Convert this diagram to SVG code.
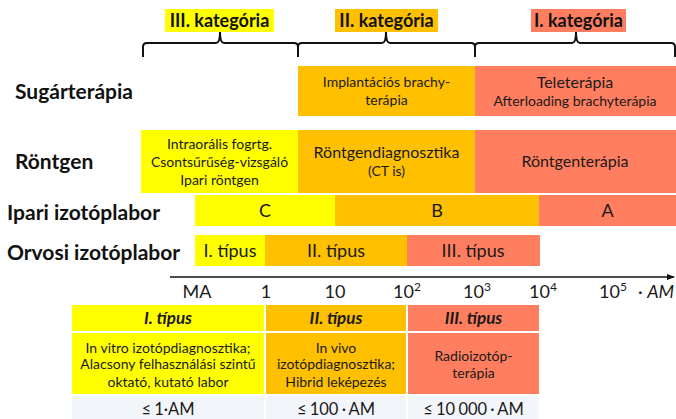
<svg xmlns="http://www.w3.org/2000/svg" width="676" height="419" viewBox="0 0 676 419">
<defs>
<style>
text{font-family:Lato,"Open Sans","Liberation Sans",sans-serif;fill:#1a1a1a;text-anchor:middle}
.lbl{font-weight:bold;font-size:21px;text-anchor:start;fill:#111}
.cat{font-weight:bold;font-size:18px;fill:#111}
.s13{font-size:14px}
.s15{font-size:16px}
.s16{font-size:18px}
.y{fill:#FFFF00}.o{fill:#FFC000}.r{fill:#FF7E5F}.g{fill:#F2F5F9}
.brace{fill:none;stroke:#111;stroke-width:2}
.hd{font-weight:bold;font-style:italic;font-size:17px}
.bt{font-size:16.5px;word-spacing:-1px}
</style>
<marker id="arr" markerWidth="8" markerHeight="8" refX="7" refY="4" orient="auto" markerUnits="userSpaceOnUse">
<path d="M0,1 L8,4 L0,7 z" fill="#111"/>
</marker>
</defs>

<g id="categories">
<g id="cat3"><rect class="y" x="165" y="9" width="109" height="23"/><text class="cat" x="219.5" y="27">III. kategória</text></g>
<g id="cat2"><rect class="o" x="335" y="9" width="103" height="23"/><text class="cat" x="386.5" y="27">II. kategória</text></g>
<g id="cat1"><rect class="r" x="531" y="9" width="95" height="23"/><text class="cat" x="578.5" y="27">I. kategória</text></g>
</g>

<g id="connectors">
<path class="brace" d="M143,57 V47 Q143,43 147,43 H216 Q220,43 220,32 Q220,43 224,43 H294 Q298,43 298,47 V57"/>
<path class="brace" d="M298,47 Q298,43 302,43 H382 Q386,43 386,32 Q386,43 390,43 H471 Q475,43 475,47 V57"/>
<path class="brace" d="M475,47 Q475,43 479,43 H572 Q576,43 576,32 Q576,43 580,43 H671 Q675,43 675,47 V57"/>
<line x1="170" y1="277" x2="674" y2="277" stroke="#111" stroke-width="1.5" marker-end="url(#arr)"/>
</g>

<g id="row-sugarterapia">
<text class="lbl" x="15" y="99">Sugárterápia</text>
<rect class="o" x="298" y="66" width="177" height="50"/>
<text class="s13" x="386.5" y="87">Implantációs brachy-</text>
<text class="s13" x="386.5" y="105">terápia</text>
<rect class="r" x="475" y="66" width="201" height="50"/>
<text class="s15" x="575" y="88">Teleterápia</text>
<text class="s13" x="575" y="106">Afterloading brachyterápia</text>
</g>

<g id="row-rontgen">
<text class="lbl" x="15" y="169">Röntgen</text>
<rect class="y" x="141" y="130" width="157" height="63"/>
<text class="s13" x="219.5" y="148.5">Intraorális fogrtg.</text>
<text class="s13" x="219.5" y="167">Csontsűrűség-vizsgáló</text>
<text class="s13" x="219.5" y="185">Ipari röntgen</text>
<rect class="o" x="298" y="130" width="177" height="63"/>
<text class="s15" x="386.5" y="158">Röntgendiagnosztika</text>
<text class="s13" x="386.5" y="176">(CT is)</text>
<rect class="r" x="475" y="130" width="201" height="63"/>
<text class="s15" x="575" y="167">Röntgenterápia</text>
</g>

<g id="row-ipari">
<text class="lbl" x="7" y="220">Ipari izotóplabor</text>
<rect class="y" x="195" y="195" width="140" height="31"/>
<text class="s16" x="265" y="217">C</text>
<rect class="o" x="335" y="195" width="204" height="31"/>
<text class="s16" x="437" y="217">B</text>
<rect class="r" x="539" y="195" width="137" height="31"/>
<text class="s16" x="607.5" y="217">A</text>
</g>

<g id="row-orvosi">
<text class="lbl" x="7" y="260">Orvosi izotóplabor</text>
<rect class="y" x="195" y="235" width="70" height="31"/>
<text class="s16" x="230" y="257">I. típus</text>
<rect class="o" x="265" y="235" width="142" height="31"/>
<text class="s16" x="336" y="257">II. típus</text>
<rect class="r" x="407" y="235" width="133" height="31"/>
<text class="s16" x="473" y="257">III. típus</text>
</g>

<g id="axis-labels">
<text class="s16" x="197" y="298">MA</text>
<text class="s16" x="266" y="298">1</text>
<text class="s16" x="335" y="298">10</text>
<text class="s16" x="407" y="298">10<tspan font-size="12" dy="-7">2</tspan></text>
<text class="s16" x="477" y="298">10<tspan font-size="12" dy="-7">3</tspan></text>
<text class="s16" x="543" y="298">10<tspan font-size="12" dy="-7">4</tspan></text>
<text class="s16" x="613" y="298">10<tspan font-size="12" dy="-7">5</tspan></text>
<text class="s16" x="656" y="298">· <tspan font-style="italic">AM</tspan></text>
</g>

<g id="table">
<g id="col1">
<rect class="y" x="72" y="305" width="192" height="26"/>
<text class="hd" x="168" y="324">I. típus</text>
<rect class="y" x="72" y="333" width="192" height="61"/>
<text class="s13" x="168" y="353">In vitro izotópdiagnosztika;</text>
<text class="s13" x="168" y="369">Alacsony felhasználási szintű</text>
<text class="s13" x="168" y="387">oktató, kutató labor</text>
<rect class="g" x="72" y="396" width="192" height="23"/>
<text class="bt" x="168" y="415">≤ 1·AM</text>
</g>
<g id="col2">
<rect class="o" x="266" y="305" width="140" height="26"/>
<text class="hd" x="336" y="324">II. típus</text>
<rect class="o" x="266" y="333" width="140" height="61"/>
<text class="s13" x="336" y="353">In vivo</text>
<text class="s13" x="336" y="369">izotópdiagnosztika;</text>
<text class="s13" x="336" y="387">Hibrid leképezés</text>
<rect class="g" x="266" y="396" width="140" height="23"/>
<text class="bt" x="336" y="415">≤ 100 · AM</text>
</g>
<g id="col3">
<rect class="r" x="408" y="305" width="131" height="26"/>
<text class="hd" x="473.5" y="324">III. típus</text>
<rect class="r" x="408" y="333" width="131" height="61"/>
<text class="s13" x="473.5" y="361">Radioizotóp-</text>
<text class="s13" x="473.5" y="378">terápia</text>
<rect class="g" x="408" y="396" width="131" height="23"/>
<text class="bt" x="473.5" y="415">≤ 10 000 · AM</text>
</g>
</g>
</svg>
